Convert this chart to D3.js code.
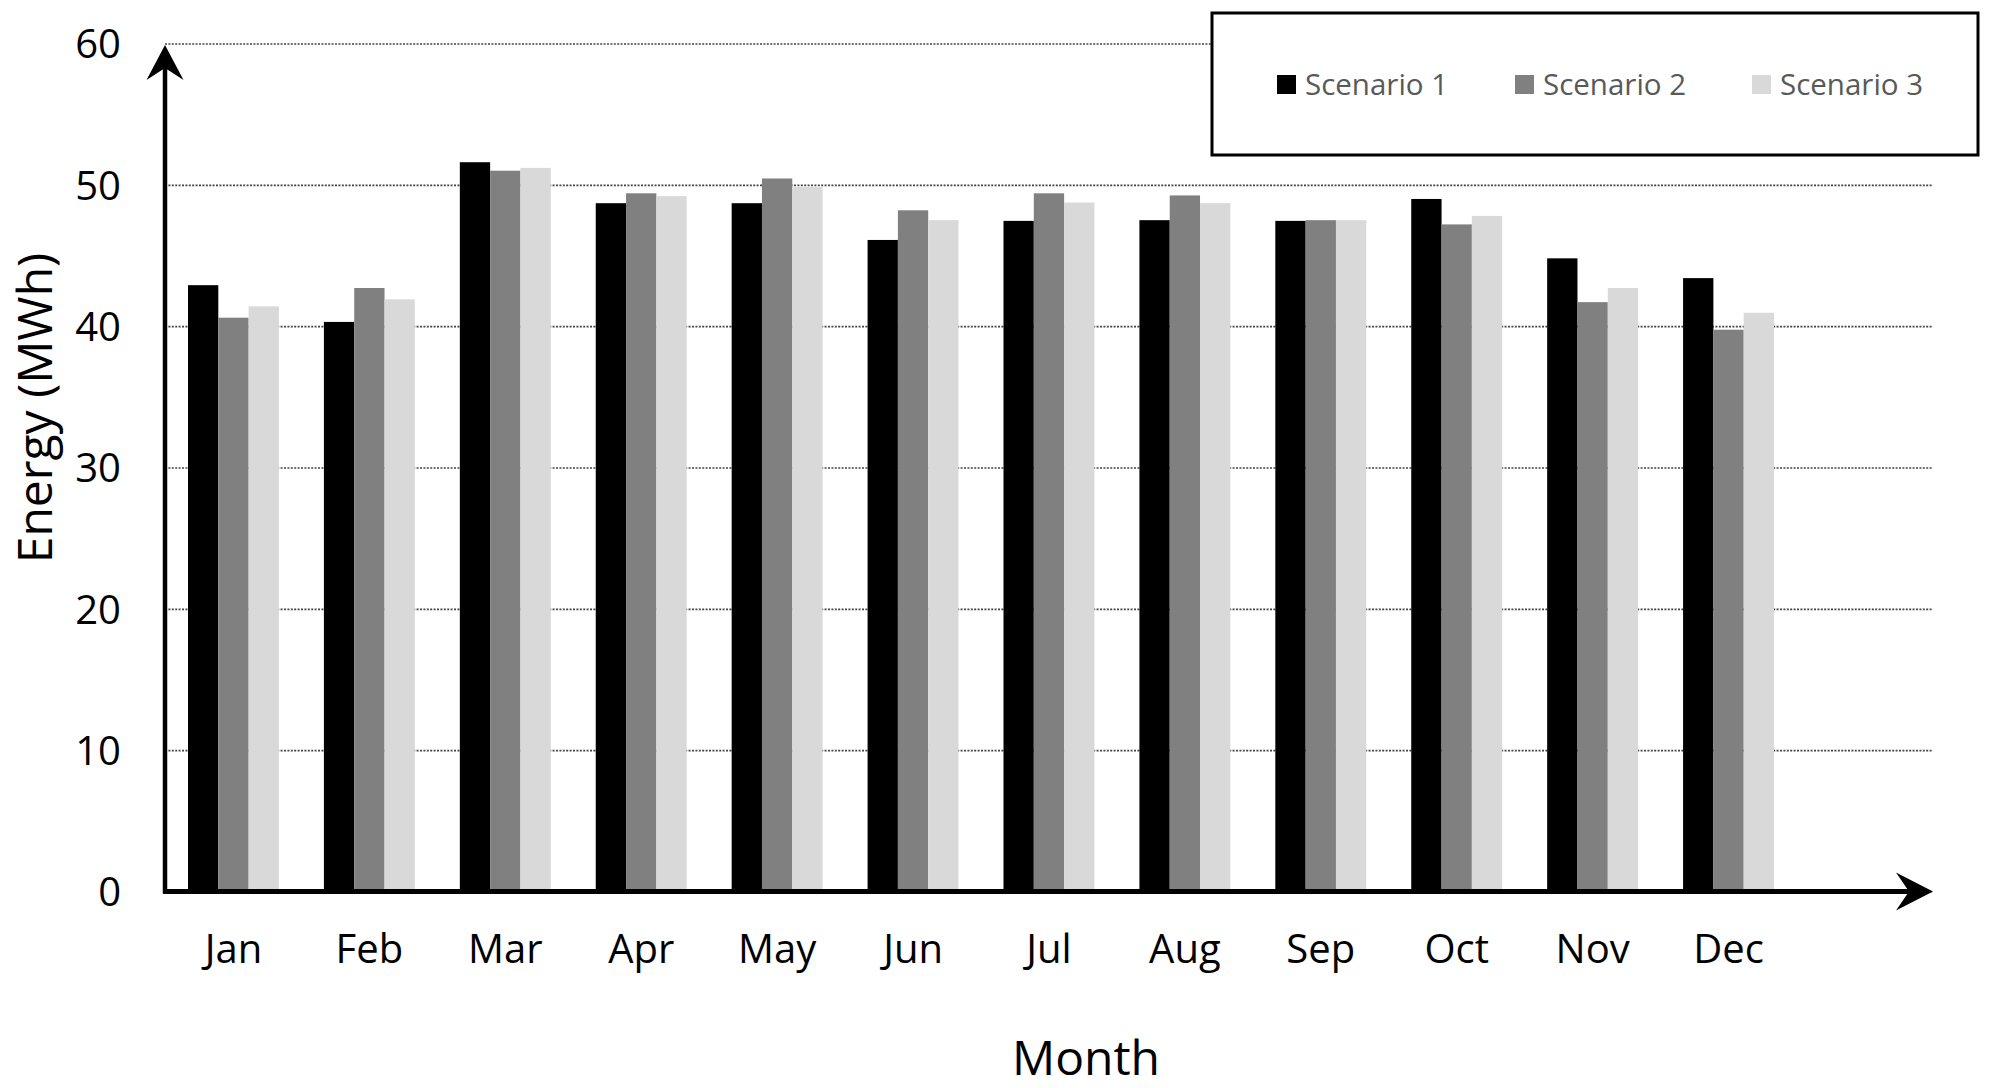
<!DOCTYPE html>
<html>
<head>
<meta charset="utf-8">
<script src="https://cdn.jsdelivr.net/npm/d3@7"></script>
<style>
  body { margin: 0; background: #fff; }
  svg { display: block; font-family: "Open Sans", sans-serif; }
</style>
</head>
<body>
<svg id="chart" width="2000" height="1088"></svg>
<script>
// data
var months = ['Jan', 'Feb', 'Mar', 'Apr', 'May', 'Jun', 'Jul', 'Aug', 'Sep', 'Oct', 'Nov', 'Dec'];
var seriesNames = ['Scenario 1', 'Scenario 2', 'Scenario 3'];
var scenario1 = [42.9, 40.3, 51.6, 48.7, 48.7, 46.1, 47.45, 47.5, 47.45, 49.0, 44.8, 43.4];
var scenario2 = [40.6, 42.7, 51.0, 49.4, 50.45, 48.2, 49.4, 49.25, 47.5, 47.2, 41.7, 39.75];
var scenario3 = [41.4, 41.9, 51.2, 49.2, 49.85, 47.5, 48.75, 48.7, 47.5, 47.8, 42.7, 40.95];
var yTicks = [0, 10, 20, 30, 40, 50, 60];

var seriesValues = [scenario1, scenario2, scenario3];
var colors = ['#000000', '#808080', '#d9d9d9'];

var svg = d3.select('#chart');

// plot geometry
var axisX = 165;      // where the value axis sits
var axisEnd = 1933;   // tip of the category axis arrow

var x = d3.scaleBand()
    .domain(months)
    .range([165.5, 1796.5])
    .paddingInner(0.331)
    .paddingOuter(0.1655);

var y = d3.scaleLinear()
    .domain([0, 60])
    .range([891.5, 43.5]);

// gridlines (dotted)
var grid = svg.append('g')
    .attr('class', 'grid')
    .attr('transform', 'translate(' + axisX + ',0)')
    .call(d3.axisLeft(y).tickValues(yTicks).tickSize(-(axisEnd - axisX)).tickFormat(''));
grid.select('.domain').remove();
grid.selectAll('line')
    .attr('stroke', '#444')
    .attr('stroke-width', 1.6)
    .attr('stroke-dasharray', '2,1.4');

// bars
var bw = x.bandwidth() / seriesNames.length;
var groups = svg.append('g').attr('class', 'bars')
    .selectAll('g')
    .data(seriesValues)
    .join('g')
    .attr('fill', function (d, i) { return colors[i]; });

groups.each(function (vals, si) {
    d3.select(this).selectAll('rect')
        .data(vals)
        .join('rect')
        .attr('x', function (d, i) { return x(months[i]) + si * bw; })
        .attr('y', function (d) { return y(d); })
        .attr('width', bw)
        .attr('height', function (d) { return y(0) - y(d); });
});

// value axis labels
var yAxis = svg.append('g')
    .attr('transform', 'translate(' + axisX + ',0)')
    .call(d3.axisLeft(y).tickValues(yTicks).tickSize(0).tickPadding(44));
yAxis.select('.domain').remove();
yAxis.selectAll('text')
    .attr('dy', '0.36em')
    .style('font-family', '"Open Sans", sans-serif')
    .style('font-size', '40px')
    .attr('fill', '#000');

// category axis labels
var xAxis = svg.append('g')
    .attr('transform', 'translate(0,' + y(0) + ')')
    .call(d3.axisBottom(x).tickSize(0).tickPadding(43));
xAxis.select('.domain').remove();
xAxis.selectAll('text')
    .style('font-family', '"Open Sans", sans-serif')
    .style('font-size', '40px')
    .attr('fill', '#000');

// axis lines with arrow heads
var axes = svg.append('g').attr('class', 'axes');
axes.append('line')
    .attr('x1', axisX).attr('y1', y(0) + 2)
    .attr('x2', axisX).attr('y2', y(60) + 20)
    .attr('stroke', '#000').attr('stroke-width', 4.5);
axes.append('line')
    .attr('x1', axisX - 2).attr('y1', y(0))
    .attr('x2', axisEnd - 20).attr('y2', y(0))
    .attr('stroke', '#000').attr('stroke-width', 5);

var tipY = y(60) + 1.5;
axes.append('path')
    .attr('d', 'M' + axisX + ',' + tipY +
        'L' + (axisX + 18.5) + ',' + (tipY + 35) +
        'L' + axisX + ',' + (tipY + 23) +
        'L' + (axisX - 18.5) + ',' + (tipY + 35) + 'Z')
    .attr('fill', '#000');
axes.append('path')
    .attr('d', 'M' + axisEnd + ',' + y(0) +
        'L' + (axisEnd - 37) + ',' + (y(0) - 19) +
        'L' + (axisEnd - 24) + ',' + y(0) +
        'L' + (axisEnd - 37) + ',' + (y(0) + 19) + 'Z')
    .attr('fill', '#000');

// axis titles
svg.append('text')
    .attr('x', 1086)
    .attr('y', 1075)
    .attr('text-anchor', 'middle')
    .style('font-size', '48px')
    .text('Month');

svg.append('text')
    .attr('transform', 'translate(52,408) rotate(-90)')
    .attr('text-anchor', 'middle')
    .style('font-size', '48px')
    .text('Energy (MWh)');

// legend
var legend = svg.append('g').attr('class', 'legend');
legend.append('rect')
    .attr('x', 1212).attr('y', 13)
    .attr('width', 766).attr('height', 142)
    .attr('fill', '#fff')
    .attr('stroke', '#000')
    .attr('stroke-width', 3);

var legendX = [1277, 1515, 1752];
var items = legend.selectAll('g.item')
    .data(seriesNames)
    .join('g')
    .attr('class', 'item')
    .attr('transform', function (d, i) { return 'translate(' + legendX[i] + ',0)'; });
items.append('rect')
    .attr('x', 0).attr('y', 75)
    .attr('width', 19).attr('height', 19)
    .attr('fill', function (d, i) { return colors[i]; });
items.append('text')
    .attr('x', 28).attr('y', 94.5)
    .attr('fill', '#595959')
    .style('font-size', '29.5px')
    .text(function (d) { return d; });
</script>
</body>
</html>
